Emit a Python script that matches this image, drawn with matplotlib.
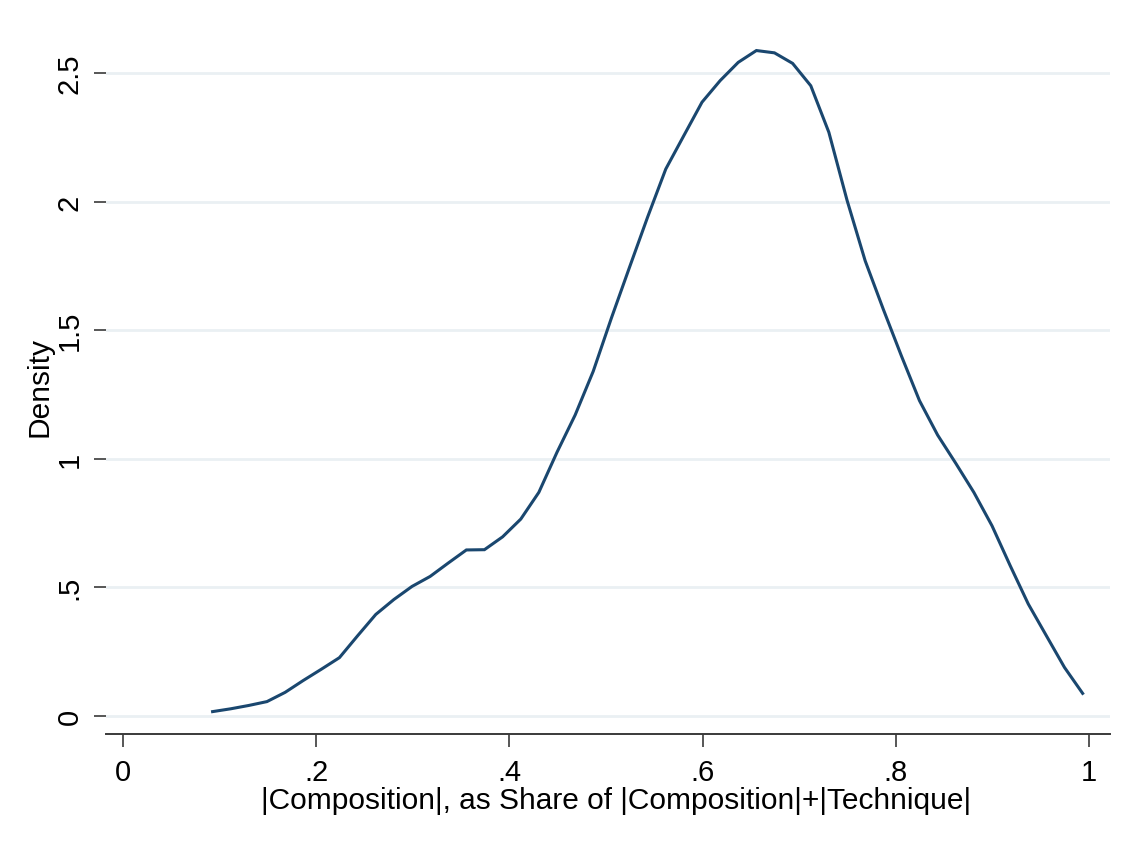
import matplotlib
matplotlib.use("Agg")
import matplotlib.pyplot as plt

plt.rcParams['font.family'] = ['Liberation Sans', 'DejaVu Sans']

# kernel density estimate of the composition share (49 evaluation points)
share = [0.0927, 0.1115, 0.1302, 0.1490, 0.1678, 0.1865, 0.2053, 0.2240, 0.2428, 0.2616,
         0.2803, 0.2991, 0.3179, 0.3366, 0.3554, 0.3741, 0.3929, 0.4117, 0.4304, 0.4492,
         0.4680, 0.4867, 0.5055, 0.5242, 0.5430, 0.5618, 0.5805, 0.5993, 0.6181, 0.6368,
         0.6556, 0.6743, 0.6931, 0.7119, 0.7306, 0.7494, 0.7682, 0.7869, 0.8057, 0.8244,
         0.8432, 0.8620, 0.8807, 0.8995, 0.9183, 0.9370, 0.9558, 0.9745, 0.9933]
density = [0.016, 0.027, 0.040, 0.055, 0.091, 0.137, 0.181, 0.226, 0.311, 0.394,
           0.452, 0.503, 0.542, 0.594, 0.645, 0.646, 0.696, 0.765, 0.869, 1.025,
           1.170, 1.340, 1.547, 1.744, 1.940, 2.127, 2.257, 2.387, 2.471, 2.542,
           2.588, 2.579, 2.538, 2.451, 2.270, 2.006, 1.770, 1.582, 1.400, 1.226,
           1.092, 0.982, 0.869, 0.739, 0.584, 0.435, 0.311, 0.188, 0.087]

xticks = [0, 0.2, 0.4, 0.6, 0.8, 1.0]
xticklabels = ['0', '.2', '.4', '.6', '.8', '1']
yticks = [0, 0.5, 1.0, 1.5, 2.0, 2.5]
yticklabels = ['0', '.5', '1', '1.5', '2', '2.5']

fig = plt.figure(figsize=(11.34, 8.45), dpi=100)
ax = fig.add_axes([0.0935, 0.1302, 0.8854, 0.8225])

ax.plot(share, density, color='#1a476f', lw=2.2, solid_joinstyle='miter', zorder=3)

ax.set_xlim(-0.0176, 1.0217)
ax.set_ylim(-0.071, 2.633)

ax.set_xticks(xticks)
ax.set_xticklabels(xticklabels, fontsize=21)
ax.set_yticks(yticks)
ax.set_yticklabels(yticklabels, fontsize=21, rotation=90, va='center')

ax.yaxis.grid(True, color='#eaf0f3', lw=2.0)
ax.set_axisbelow(True)

for s in ['top', 'right', 'left']:
    ax.spines[s].set_visible(False)
ax.spines['bottom'].set_color('#3a3a3a')
ax.spines['bottom'].set_linewidth(1.4)

ax.tick_params(axis='x', length=9, width=1.2, color='#3a3a3a', pad=8)
ax.tick_params(axis='y', length=9, width=1.2, color='#3a3a3a', pad=7)

ax.set_xlabel('|Composition|, as Share of |Composition|+|Technique|', fontsize=21.5)
ax.xaxis.set_label_coords(0.508, -0.0745, transform=ax.transAxes)
ax.xaxis.label.set_va('top')
ax.set_ylabel('Density', fontsize=21.5, labelpad=2)

fig.savefig('out.png', dpi=100, facecolor='white')
